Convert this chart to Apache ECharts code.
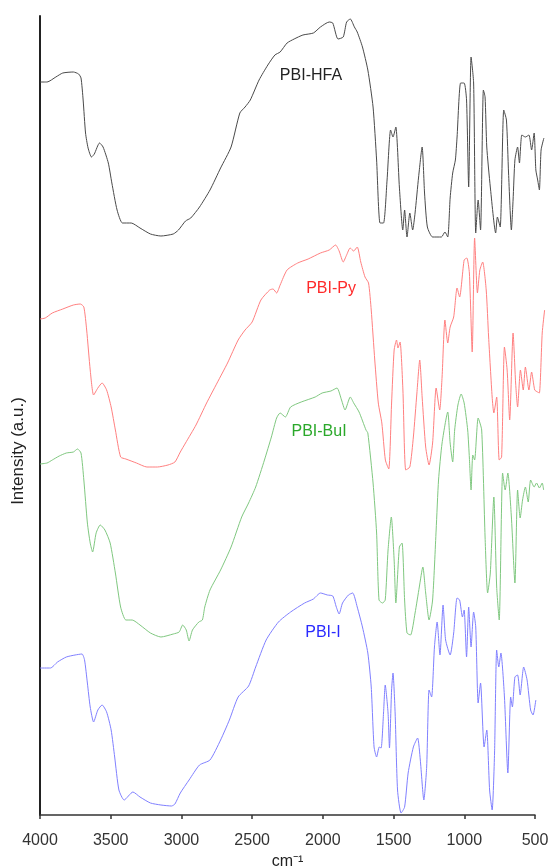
<!DOCTYPE html>
<html>
<head>
<meta charset="utf-8">
<script src="https://cdn.jsdelivr.net/npm/echarts@6/dist/echarts.min.js"></script>
<style>html,body{margin:0;padding:0;background:#fff}#c{width:550px;height:867px}</style>
</head>
<body>
<div id="c"></div>
<script>
// x tick labels (cm-1)
const xTicks = [4000, 3500, 3000, 2500, 2000, 1500, 1000, 500];
const seriesNames = ['PBI-HFA', 'PBI-Py', 'PBI-BuI', 'PBI-I'];
const yTitle = 'Intensity (a.u.)';
const xTitle = 'cm\u207B\u00B9';

// [wavenumber, intensity (a.u., stacked offset as drawn)]
const hfa = [[4000,733],[3950,733],[3888,738],[3839,742],[3764,743],[3727,741],[3710,737],[3695,715],[3678,682],[3660,667],[3636,658],[3616,661],[3579,672],[3554,668],[3517,652],[3492,632],[3455,605],[3417,592],[3355,592],[3293,587],[3219,581],[3145,579],[3058,581],[3021,585],[2971,594],[2934,597],[2872,608],[2798,625],[2723,647],[2649,668],[2587,702],[2550,708],[2513,715],[2451,735],[2389,750],[2339,760],[2302,763],[2253,772],[2203,776],[2141,780],[2067,782],[2017,788],[1955,793],[1930,792],[1893,776],[1856,778],[1832,793],[1806,796],[1777,788],[1757,783],[1720,768],[1682,745],[1645,708],[1620,655],[1596,592],[1571,592],[1546,635],[1521,685],[1504,678],[1484,688],[1459,628],[1435,585],[1422,605],[1405,578],[1385,602],[1365,585],[1348,602],[1323,638],[1298,668],[1281,622],[1261,588],[1224,578],[1162,578],[1137,583],[1117,578],[1100,617],[1082,642],[1063,655],[1051,678],[1026,732],[1001,732],[984,715],[969,628],[952,758],[934,732],[919,582],[902,615],[885,585],[865,725],[853,718],[841,668],[816,628],[778,582],[766,598],[746,588],[721,705],[702,695],[687,642],[667,585],[655,615],[642,655],[623,668],[610,652],[593,680],[568,678],[543,680],[524,665],[506,682],[494,645],[481,635],[469,625],[457,665],[437,677]];

const py = [[4000,496],[3963,497],[3913,502],[3839,506],[3764,510],[3715,511],[3690,508],[3670,485],[3645,445],[3621,420],[3591,427],[3561,432],[3529,425],[3497,408],[3467,385],[3430,358],[3393,356],[3318,352],[3244,348],[3170,348],[3095,350],[3046,353],[3008,363],[2971,372],[2897,390],[2822,412],[2748,432],[2674,452],[2599,475],[2550,485],[2500,493],[2438,515],[2376,525],[2352,526],[2327,522],[2302,530],[2253,545],[2178,552],[2104,556],[2017,562],[1955,565],[1910,570],[1885,564],[1856,553],[1832,560],[1807,567],[1782,564],[1757,568],[1732,553],[1702,538],[1677,532],[1658,505],[1633,455],[1608,412],[1583,392],[1558,355],[1534,346],[1514,412],[1496,465],[1479,475],[1469,467],[1454,473],[1434,425],[1414,345],[1385,348],[1360,378],[1335,422],[1315,455],[1298,418],[1273,368],[1249,350],[1224,372],[1199,427],[1174,405],[1157,438],[1137,495],[1117,472],[1100,488],[1075,498],[1051,527],[1033,518],[1001,555],[982,557],[964,542],[944,463],[927,577],[907,522],[890,545],[870,553],[845,525],[828,478],[803,418],[791,402],[771,418],[753,355],[736,358],[716,468],[697,445],[679,395],[655,482],[637,432],[623,408],[603,445],[583,425],[568,448],[543,425],[524,443],[502,425],[482,423],[469,422],[449,482],[432,505]];

const bui = [[4000,351],[3950,352],[3913,355],[3864,359],[3814,362],[3764,363],[3735,366],[3710,362],[3690,335],[3665,292],[3645,272],[3628,263],[3603,282],[3574,290],[3541,285],[3504,272],[3467,242],[3430,208],[3393,195],[3348,195],[3293,190],[3219,182],[3145,178],[3058,181],[3016,183],[2991,190],[2966,185],[2946,174],[2922,185],[2877,193],[2852,195],[2835,208],[2798,225],[2723,245],[2649,268],[2574,298],[2525,312],[2475,328],[2413,355],[2364,378],[2327,397],[2302,402],[2265,398],[2228,408],[2153,413],[2054,418],[2005,422],[1943,424],[1900,427],[1868,415],[1843,405],[1806,418],[1782,412],[1744,403],[1695,385],[1682,382],[1645,332],[1620,282],[1603,215],[1578,212],[1559,215],[1539,265],[1516,298],[1496,255],[1484,212],[1459,268],[1440,272],[1422,215],[1405,182],[1380,180],[1348,202],[1318,228],[1293,248],[1273,222],[1249,195],[1224,215],[1199,285],[1182,335],[1157,372],[1117,403],[1100,372],[1082,353],[1068,385],[1045,410],[1022,421],[1001,412],[976,385],[964,357],[952,325],[940,360],[927,355],[902,397],[877,385],[853,278],[835,222],[816,242],[791,318],[771,228],[753,195],[729,342],[711,325],[692,342],[667,298],[642,232],[623,325],[605,297],[588,315],[568,328],[548,313],[531,335],[506,328],[489,332],[469,327],[449,332],[439,325]];

const pbiI = [[4000,147],[3926,147],[3876,153],[3814,158],[3752,160],[3703,161],[3685,155],[3665,132],[3645,108],[3621,93],[3591,105],[3561,110],[3529,103],[3497,85],[3472,58],[3442,25],[3405,15],[3343,23],[3293,18],[3219,12],[3145,10],[3070,9],[3046,11],[3008,22],[2946,35],[2872,50],[2798,55],[2723,75],[2661,95],[2599,118],[2525,129],[2475,148],[2401,175],[2314,193],[2228,203],[2129,212],[2067,216],[2017,222],[1968,220],[1930,219],[1905,208],[1885,201],[1861,212],[1819,220],[1789,222],[1757,208],[1720,188],[1682,162],[1658,128],[1638,68],[1620,58],[1601,68],[1588,67],[1571,102],[1559,130],[1539,102],[1529,67],[1514,125],[1504,142],[1489,102],[1472,25],[1447,2],[1422,8],[1397,42],[1360,68],[1330,77],[1311,55],[1286,15],[1266,48],[1249,125],[1231,118],[1211,168],[1192,193],[1172,160],[1150,210],[1132,175],[1100,160],[1075,182],[1051,217],[1033,215],[1013,198],[1001,205],[984,158],[969,208],[952,168],[934,203],[919,188],[902,112],[885,132],[860,68],[841,85],[821,25],[803,5],[786,62],[771,165],[756,148],[741,162],[716,118],[692,42],[672,118],[660,108],[642,138],[623,140],[605,120],[580,148],[556,135],[531,105],[514,100],[494,115]];

// label anchor points [wavenumber, intensity]
const labelPos = [[2084,739],[1942,526],[2027,383],[1999,182]];

const lineColors = ['#4a4a4a', '#ff8080', '#80c880', '#8080ff'];
const textColors = ['#222222', '#ff2a2a', '#2aa82a', '#2a2aff'];
const allData = [hfa, py, bui, pbiI];

const W = 550, H = 867;
const gLeft = 40, gRight = 15, gTop = 16, gBottom = 52;
const dataRight = 4; // spectra run slightly past the 500 tick
const xMin = 500, xMax = 4000;
const axisW = W - gLeft - gRight;
const dataW = W - gLeft - dataRight;
const dataMin = xMax - (xMax - xMin) * dataW / axisW;

const chart = echarts.init(document.getElementById('c'), null, {renderer: 'canvas'});
const font = 'Liberation Sans, Arial, sans-serif';

chart.setOption({
  backgroundColor: '#ffffff',
  animation: false,
  grid: [
    {left: gLeft, right: gRight, top: gTop, bottom: gBottom, containLabel: false, outerBoundsMode: 'none'},
    {left: gLeft, right: dataRight, top: gTop, bottom: gBottom, containLabel: false, outerBoundsMode: 'none'}
  ],
  graphic: [{
    type: 'text',
    x: 18, y: 451,
    rotation: Math.PI / 2,
    style: {text: yTitle, fontSize: 17, fill: '#222', fontFamily: font,
      align: 'center', verticalAlign: 'middle'}
  }],
  xAxis: [{
    gridIndex: 0,
    type: 'value',
    inverse: true,
    min: xMin, max: xMax, interval: 500,
    name: xTitle,
    nameLocation: 'middle',
    nameGap: 35,
    nameTextStyle: {fontSize: 16, color: '#222', fontFamily: font},
    axisLine: {show: true, onZero: false, lineStyle: {color: '#333', width: 1.5}},
    axisTick: {show: true, length: 4, lineStyle: {color: '#333', width: 1.5}},
    axisLabel: {fontSize: 16, color: '#333', margin: 18, fontFamily: font,
      formatter: v => xTicks.includes(v) ? String(v) : ''},
    splitLine: {show: false}
  }, {
    gridIndex: 1,
    type: 'value',
    inverse: true,
    min: dataMin, max: xMax,
    show: false
  }],
  yAxis: [{
    gridIndex: 0,
    type: 'value',
    min: 0, max: 799,
    axisLine: {show: true, onZero: false, lineStyle: {color: '#222', width: 2}},
    axisTick: {show: false},
    axisLabel: {show: false},
    splitLine: {show: false}
  }, {
    gridIndex: 1,
    type: 'value',
    min: 0, max: 799,
    show: false
  }],
  series: allData.map((d, i) => ({
    name: seriesNames[i],
    type: 'line',
    xAxisIndex: 1,
    yAxisIndex: 1,
    data: d,
    clip: false,
    smooth: 0.2,
    showSymbol: false,
    symbol: 'none',
    lineStyle: {color: lineColors[i], width: 1},
    markPoint: {
      symbol: 'circle',
      symbolSize: 1,
      itemStyle: {color: 'rgba(0,0,0,0)'},
      label: {show: true, position: 'inside', formatter: seriesNames[i],
        color: textColors[i], fontSize: 16, fontFamily: font},
      data: [{coord: labelPos[i]}]
    }
  }))
});
</script>
</body>
</html>
